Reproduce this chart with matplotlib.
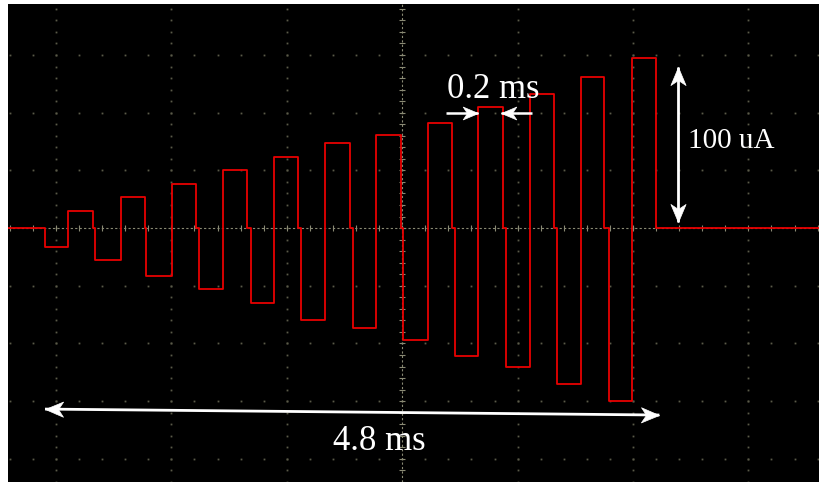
import numpy as np
import matplotlib
matplotlib.use("Agg")
import matplotlib.pyplot as plt
from matplotlib.path import Path
from matplotlib.markers import MarkerStyle
from matplotlib.transforms import Affine2D

# pulse train (time in ms, current in uA)
neg_start = [0.0, 0.39, 0.79, 1.20, 1.61, 2.00, 2.41, 2.80, 3.20, 3.60, 4.00, 4.41]
pos_start = [0.18, 0.59, 0.99, 1.39, 1.79, 2.19, 2.59, 2.99, 3.38, 3.79, 4.19, 4.59]
pos_end = [0.375, 0.78, 1.18, 1.58, 1.98, 2.38, 2.78, 3.18, 3.58, 3.98, 4.37, 4.77]
neg_amp = [11, 19, 28, 36, 44, 54, 59, 66, 75, 82, 92, 102]
pos_amp = [10, 18, 26, 34, 42, 50, 55, 62, 71, 79, 89, 100]

train_len = 4.8    # ms
phase_len = 0.2    # ms
amp_label = 100    # uA

# screen layout
x_lim = (-0.289, 6.055)
y_lim = (-149.4, 131.8)
div_ms = 0.9016
grid_t0 = 0.086
div_ua = 33.94

fig = plt.figure(figsize=(8.2, 4.82), dpi=100, facecolor="white")
ax = fig.add_axes([8 / 820, 0, 812 / 820, 478 / 482])
ax.set_facecolor("black")
ax.set_xlim(*x_lim)
ax.set_ylim(*y_lim)
ax.set_xticks([])
ax.set_yticks([])
for s in ax.spines.values():
    s.set_visible(False)

# dotted graticule
dot_col = "#5a5a48"
gx = grid_t0 + div_ms * np.arange(0, 7)
gy = div_ua * np.arange(-4, 4)
center_x = gx[3]
yy = np.arange(-5 * div_ua, 4 * div_ua, div_ua / 5)
xx = grid_t0 + np.arange(-5 * 5, 7 * 5) * div_ms / 5
for x in gx:
    if x == center_x:
        continue
    ax.plot(np.full_like(yy, x), yy, ls="none", marker="s", ms=1.3, color=dot_col, mec="none")
for y in gy:
    if y == 0:
        continue
    ax.plot(xx, np.full_like(xx, y), ls="none", marker="s", ms=1.3, color=dot_col, mec="none")

# centre axes: dashed with small ticks
cen_col = "#8a8a74"
ax.axvline(center_x, color=cen_col, lw=0.8, ls=(0, (2, 2)))
ax.axhline(0, color=cen_col, lw=0.8, ls=(0, (2, 2)))
ax.plot(np.full_like(yy, center_x), yy, ls="none", marker="_", ms=5, mew=0.8, color=cen_col)
ax.plot(xx, np.zeros_like(xx), ls="none", marker="|", ms=5, mew=0.8, color=cen_col)

# trace
tt = [x_lim[0]]
vv = [0]
for a, b, c, n, p in zip(neg_start, pos_start, pos_end, neg_amp, pos_amp):
    tt += [a, a, b, b, c, c]
    vv += [0, -n, -n, p, p, 0]
tt.append(x_lim[1])
vv.append(0)
ax.plot(tt, vv, color="#e80000", lw=1.3)

# stealth style arrow heads
head = Path([(0, 0), (-1, 0.42), (-0.72, 0), (-1, -0.42), (0, 0)],
            [Path.MOVETO, Path.LINETO, Path.LINETO, Path.LINETO, Path.CLOSEPOLY])


def arrow_head(tip, tail, size):
    p1 = ax.transData.transform(tail)
    p2 = ax.transData.transform(tip)
    ang = np.degrees(np.arctan2(p2[1] - p1[1], p2[0] - p1[0]))
    m = MarkerStyle(head, transform=Affine2D().rotate_deg(ang))
    ax.plot([tip[0]], [tip[1]], marker=m, ms=size, color="white", mec="white", mew=0.5, ls="none")


def arrow(tail, tip, size, lw=2.0, both=False):
    ax.plot([tail[0], tip[0]], [tail[1], tip[1]], color="white", lw=lw, solid_capstyle="butt")
    arrow_head(tip, tail, size)
    if both:
        arrow_head(tail, tip, size)


serif = ["Liberation Serif", "DejaVu Serif"]

arrow((0, -106.5), (train_len, -110.0), 26, both=True)
ax.text(2.25, -130.6, f"{train_len:g} ms", color="white", fontsize=25,
        family=serif, ha="left", va="baseline")

t_a = pos_start[8]
t_b = pos_end[8]
arrow((t_a - 0.245, 67.6), (t_a, 67.6), 22, lw=1.8)
arrow((t_b + 0.225, 67.6), (t_b - 0.015, 67.6), 22, lw=1.8)
ax.text(3.14, 76.5, f"{phase_len:g} ms", color="white", fontsize=25,
        family=serif, ha="left", va="baseline")

arrow((4.945, 3.5), (4.945, 94.7), 26, both=True)
ax.text(5.02, 47.0, f"{amp_label} uA", color="white", fontsize=21,
        family=serif, ha="left", va="baseline")

fig.savefig("out.png", dpi=100, facecolor="white")
